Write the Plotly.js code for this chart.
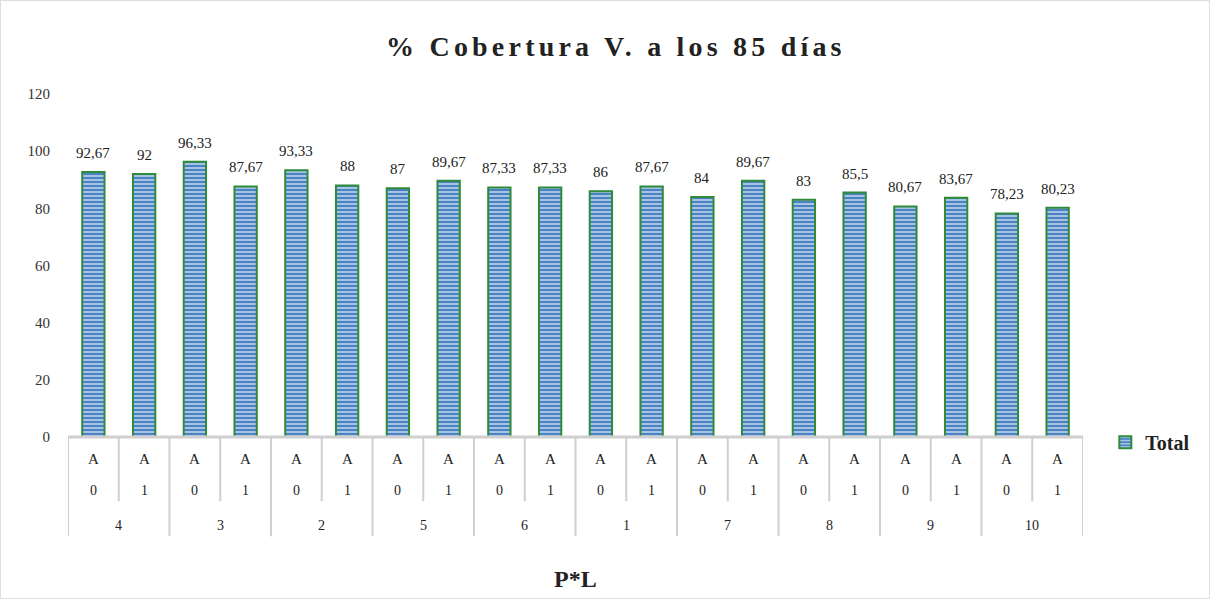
<!DOCTYPE html>
<html>
<head>
<meta charset="utf-8">
<script src="https://cdn.plot.ly/plotly-3.0.1.min.js"></script>
<style>
  html, body { margin: 0; padding: 0; background: #fff; }
  #wrap { position: relative; width: 1210px; height: 599px; }
  #chart { width: 1210px; height: 599px; }
  #frame { position: absolute; left: 0; top: 0; width: 1210px; height: 599px; box-sizing: border-box; border: 1px solid #dedede; pointer-events: none; }
</style>
</head>
<body>
<div id="wrap"><div id="chart"></div><div id="frame"></div></div>
<script>
// ---- data ----
const groupP = ['4','4','3','3','2','2','5','5','6','6','1','1','7','7','8','8','9','9','10','10'];
const levelA = ['A','A','A','A','A','A','A','A','A','A','A','A','A','A','A','A','A','A','A','A'];
const levelL = ['0','1','0','1','0','1','0','1','0','1','0','1','0','1','0','1','0','1','0','1'];
const totals = [92.67, 92, 96.33, 87.67, 93.33, 88, 87, 89.67, 87.33, 87.33, 86, 87.67, 84, 89.67, 83, 85.5, 80.67, 83.67, 78.23, 80.23];
const yTicks = [0, 20, 40, 60, 80, 100, 120];

const serif = 'Liberation Serif, Times New Roman, serif';
const cats = groupP.map((p, i) => p + '|' + levelA[i] + '|' + levelL[i]);
const labels = totals.map(v => String(v).replace('.', ','));

const trace = {
  type: 'bar',
  name: 'Total',
  x: cats,
  y: totals,
  marker: {
    color: '#4a82c4',
    line: { color: '#2e8b3a', width: 2 },
    pattern: { shape: '-', fgcolor: '#cfdff3', bgcolor: '#4a82c4', size: 4, solidity: 0.35 }
  },
  hoverinfo: 'x+y'
};

// ---- category table (shapes + annotations) ----
const shapes = [];
const annotations = [];
const lineCol = '#cfcfcf';
const yInner = -0.187, yOuter = -0.289;
shapes.push({ type: 'line', xref: 'x', yref: 'paper', x0: -0.5, x1: cats.length - 0.5, y0: 0, y1: 0, line: { color: lineCol, width: 3 } });
for (let i = 0; i <= cats.length; i++) {
  const isGroupEdge = (i === 0 || i === cats.length || groupP[i] !== groupP[i - 1]);
  shapes.push({ type: 'line', xref: 'x', yref: 'paper', x0: i - 0.5, x1: i - 0.5, y0: 0, y1: isGroupEdge ? yOuter : yInner, line: { color: lineCol, width: 2 } });
}
for (let i = 0; i < cats.length; i++) {
  // data labels
  annotations.push({ xref: 'x', yref: 'y', x: cats[i], y: totals[i], text: labels[i], showarrow: false, yanchor: 'bottom', yshift: 9, font: { family: serif, size: 15, color: '#222' } });
  annotations.push({ xref: 'x', yref: 'paper', x: i, y: -0.064, text: levelA[i], showarrow: false, yanchor: 'middle', font: { family: serif, size: 15, color: '#222' } });
  annotations.push({ xref: 'x', yref: 'paper', x: i, y: -0.155, text: levelL[i], showarrow: false, yanchor: 'middle', font: { family: serif, size: 14, color: '#222' } });
}
let start = 0;
for (let i = 1; i <= cats.length; i++) {
  if (i === cats.length || groupP[i] !== groupP[start]) {
    annotations.push({ xref: 'x', yref: 'paper', x: (start + i - 1) / 2, y: -0.257, text: groupP[start], showarrow: false, yanchor: 'middle', font: { family: serif, size: 14, color: '#222' } });
    start = i;
  }
}
// x-axis title
annotations.push({ xref: 'paper', yref: 'paper', x: 0.5, y: -0.414, text: '<b>P*L</b>', showarrow: false, xanchor: 'center', yanchor: 'middle', font: { family: serif, size: 24, color: '#222' } });

const layout = {
  width: 1210, height: 599,
  margin: { l: 68, r: 127, t: 94, b: 162, autoexpand: false },
  paper_bgcolor: '#fff', plot_bgcolor: '#fff',
  font: { family: serif, color: '#222' },
  title: { text: '% Cobertura V. a los 85 días', x: 0.509, xref: 'container', xanchor: 'center', y: 0.923, yanchor: 'middle', font: { family: serif, size: 28, color: '#222', weight: 'bold' } },
  bargap: 0.56,
  showlegend: true,
  legend: { x: 1.022, y: -0.015, xanchor: 'left', yanchor: 'middle', font: { family: serif, size: 20, color: '#222', weight: 'bold' }, itemwidth: 30 },
  xaxis: {
    type: 'category', range: [-0.5, cats.length - 0.5], showticklabels: false, ticks: '', showgrid: false, zeroline: false, showline: false
  },
  yaxis: {
    range: [0, 120], tickvals: yTicks, showgrid: false, zeroline: false, showline: false,
    ticks: 'outside', ticklen: 14, tickcolor: 'rgba(0,0,0,0)',
    tickfont: { family: serif, size: 15, color: '#333' }
  },
  shapes: shapes,
  annotations: annotations
};

Plotly.newPlot('chart', [trace], layout, { displayModeBar: false, staticPlot: true }).then(() => {
  const t = document.querySelector('.gtitle');
  if (t) t.style.letterSpacing = '4.2px';
});
</script>
</body>
</html>
